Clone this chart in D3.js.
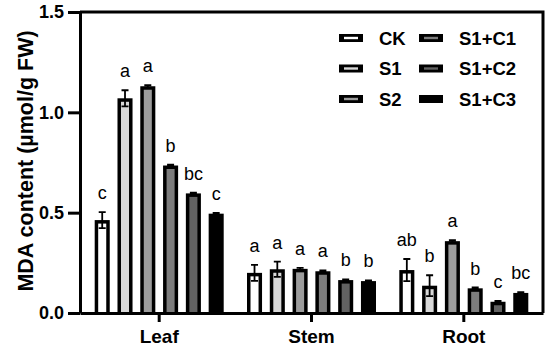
<!DOCTYPE html>
<html>
<head>
<meta charset="utf-8">
<script src="https://cdn.jsdelivr.net/npm/d3@7"></script>
<style>
  body { margin: 0; background: #fff; }
  text { font-family: "Liberation Sans", Arial, sans-serif; }
</style>
</head>
<body>
<div id="chart"></div>
<script>
// tissues on the x axis
let tissues = ["Leaf", "Stem", "Root"];
// treatments (one bar each per tissue)
let treatments = ["CK", "S1", "S2", "S1+C1", "S1+C2", "S1+C3"];
let fills = ["#ffffff", "#d8d8d8", "#9c9c9c", "#7d7d7d", "#626262", "#000000"];

// MDA content, one row per tissue, in treatment order
let meanLeaf = [0.463, 1.07, 1.13, 0.735, 0.596, 0.495];
let meanStem = [0.200, 0.218, 0.220, 0.208, 0.164, 0.159];
let meanRoot = [0.214, 0.136, 0.358, 0.123, 0.056, 0.100];
let errLeaf = [0.040, 0.040, 0.006, 0.004, 0.004, 0.004];
let errStem = [0.040, 0.038, 0.005, 0.004, 0.004, 0.004];
let errRoot = [0.055, 0.052, 0.005, 0.004, 0.004, 0.004];
let sigLeaf = ["c", "a", "a", "b", "bc", "c"];
let sigStem = ["a", "a", "a", "a", "b", "b"];
let sigRoot = ["ab", "b", "a", "b", "c", "bc"];

let yTicks = [0, 0.5, 1.0, 1.5];

let width = 550, height = 348;
let plotLeft = 80, plotRight = 543, plotTop = 12, plotBottom = 313;
let border = 3.5;

let means = [meanLeaf, meanStem, meanRoot];
let errs = [errLeaf, errStem, errRoot];
let sigs = [sigLeaf, sigStem, sigRoot];

let rows = [];
tissues.forEach(function(t, i){
    treatments.forEach(function(s, j){
        rows.push({tissue: t, trt: s, fill: fills[j], v: means[i][j], e: errs[i][j], sig: sigs[i][j]});
    });
});

let svg = d3.select("#chart").append("svg")
    .attr("width", width)
    .attr("height", height);

let x = d3.scaleBand().domain(tissues).range([plotLeft, plotRight]).paddingInner(0).paddingOuter(0.02);
let xc = function(t){ return x(t) + x.bandwidth() / 2; };
let inner = d3.scaleBand().domain(treatments).range([-64.5, 64.5]).paddingInner(0.34).paddingOuter(0);
let y = d3.scaleLinear().domain([0, 1.5]).range([plotBottom, plotTop]);

// frame (top and right)
svg.append("path")
    .attr("d", "M" + plotLeft + "," + plotTop + "H" + plotRight + "V" + plotBottom)
    .attr("fill", "none")
    .attr("stroke", "#000")
    .attr("stroke-width", 3);

let bars = svg.append("g").selectAll("g")
    .data(rows)
    .enter()
    .append("g")
    .attr("transform", function(d){ return "translate(" + (xc(d.tissue) + inner(d.trt)) + ",0)"; });

let bw = inner.bandwidth();

bars.append("rect")
    .attr("x", 0)
    .attr("y", function(d){ return y(d.v); })
    .attr("width", bw)
    .attr("height", function(d){ return plotBottom - y(d.v); })
    .attr("fill", "#000");

bars.append("rect")
    .attr("x", border)
    .attr("y", function(d){ return Math.min(y(d.v) + border, plotBottom); })
    .attr("width", bw - 2 * border)
    .attr("height", function(d){ return Math.max(plotBottom - y(d.v) - border, 0); })
    .attr("fill", function(d){ return d.fill; });

// error bars
bars.append("path")
    .attr("d", function(d){
        let cx = bw / 2, t = y(d.v + d.e), b = y(d.v - d.e), c = 3.5;
        return "M" + cx + "," + t + "V" + b + "M" + (cx - c) + "," + t + "H" + (cx + c) + "M" + (cx - c) + "," + b + "H" + (cx + c);
    })
    .attr("stroke", "#000")
    .attr("stroke-width", 1.8)
    .attr("fill", "none");

// significance letters
bars.append("text")
    .attr("x", bw / 2)
    .attr("y", function(d){ return y(d.v + d.e) - 13; })
    .attr("text-anchor", "middle")
    .attr("font-size", 18)
    .text(function(d){ return d.sig; });

// axes
let yAxis = d3.axisLeft(y).tickValues(yTicks).tickFormat(d3.format(".1f")).tickSize(12).tickSizeOuter(0);
let gy = svg.append("g")
    .attr("transform", "translate(" + plotLeft + ",0)")
    .call(yAxis);
gy.selectAll("text").attr("font-size", 18).attr("font-weight", "bold").attr("fill", "#000").attr("dx", "-1");

let xAxis = d3.axisBottom(x).tickSize(9).tickSizeOuter(0);
let gx = svg.append("g")
    .attr("transform", "translate(0," + plotBottom + ")")
    .call(xAxis);
gx.selectAll("text").attr("font-size", 19).attr("font-weight", "bold").attr("fill", "#000").attr("dy", "0.93em");

svg.selectAll(".domain, .tick line").attr("stroke", "#000").attr("stroke-width", 3);

svg.append("text")
    .text("MDA content (µmol/g FW)")
    .attr("transform", "translate(33,161) rotate(-90)")
    .attr("text-anchor", "middle")
    .attr("font-size", 21.5)
    .attr("font-weight", "bold");

// legend: two columns of three
let legend = svg.append("g").selectAll("g")
    .data(treatments)
    .enter()
    .append("g")
    .attr("transform", function(d, i){
        let col = Math.floor(i / 3), row = i % 3;
        return "translate(" + (339 + col * 80) + "," + (38 + row * 30.5) + ")";
    });

legend.append("rect")
    .attr("x", 0).attr("y", -4)
    .attr("width", 24).attr("height", 8)
    .attr("fill", "#000");
legend.append("rect")
    .attr("x", 5).attr("y", -1.2)
    .attr("width", 14).attr("height", 2.4)
    .attr("fill", function(d, i){ return fills[i]; });
legend.append("text")
    .attr("x", 40)
    .attr("y", 6.5)
    .attr("font-size", 18.5)
    .attr("font-weight", "bold")
    .text(function(d){ return d; });
</script>
</body>
</html>
